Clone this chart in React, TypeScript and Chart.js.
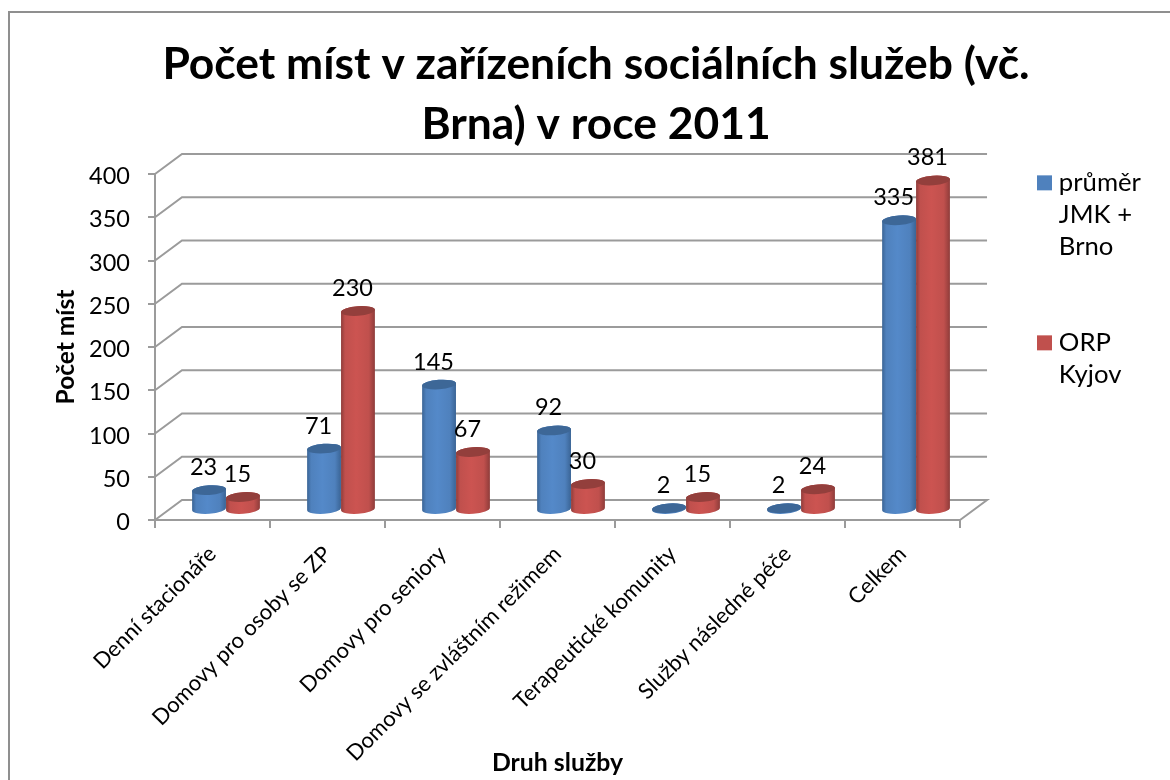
import React, { useEffect, useRef } from "react";
import { Chart, registerables } from "chart.js";

Chart.register(...registerables);

const categories = [
  "Denní stacionáře",
  "Domovy pro osoby se ZP",
  "Domovy pro seniory",
  "Domovy se zvláštním režimem",
  "Terapeutické komunity",
  "Služby následné péče",
  "Celkem",
];
const prumerValues = [23, 71, 145, 92, 2, 2, 335];
const kyjovValues = [15, 230, 67, 30, 15, 24, 381];
const seriesNames = ["průměr JMK + Brno", "ORP Kyjov"];
const legendLines = [["průměr", "JMK +", "Brno"], ["ORP", "Kyjov"]];
const titleLines = ["Počet míst v zařízeních sociálních služeb (vč.", "Brna) v roce 2011"];
const yTitle = "Počet míst";
const xTitle = "Druh služby";

const FONT = "Lato, Carlito, Calibri, sans-serif";
const GRID = "#9b9b9b";
const FRAME = "#8f8f8f";
const BLUE = { base: "#4f81bd", edge: "#3a6495", mid: "#5489c9", top: "#3d6797" };
const RED = { base: "#c0504d", edge: "#8e3c3a", mid: "#cc5451", top: "#933f3c" };
const DEPTH_X = 27;
const DEPTH_Y = 20;
const TILT = -0.07;

function drawCylinder(ctx: CanvasRenderingContext2D, bar: any, c: typeof BLUE) {
  const cx = bar.x + DEPTH_X / 2;
  const topY = bar.y - DEPTH_Y / 2;
  const baseY = bar.base - DEPTH_Y / 2;
  const rx = bar.width / 2;
  const ry = 4.8;
  const g = ctx.createLinearGradient(cx - rx, 0, cx + rx, 0);
  g.addColorStop(0, c.edge);
  g.addColorStop(0.12, c.base);
  g.addColorStop(0.45, c.mid);
  g.addColorStop(0.82, c.base);
  g.addColorStop(1, c.edge);
  ctx.beginPath();
  ctx.ellipse(cx, baseY, rx, ry, TILT, 0, Math.PI);
  ctx.ellipse(cx, topY, rx, ry, TILT, Math.PI, 2 * Math.PI);
  ctx.closePath();
  ctx.fillStyle = g;
  ctx.fill();
  ctx.beginPath();
  ctx.ellipse(cx, topY, rx, ry, TILT, 0, 2 * Math.PI);
  ctx.fillStyle = c.top;
  ctx.fill();
}

const scene3d = {
  id: "scene3d",
  afterLayout(chart: any) {
    const l = chart.legend;
    const dx = 979 - l.left;
    const dy = 170 - 64 - l.top;
    l.left += dx;
    l.right += dx;
    l.top += dy;
    l.bottom += dy;
    const t = chart.titleBlock;
    t.left += 4.5;
    t.right += 4.5;
  },
  beforeDraw(chart: any) {
    const ctx = chart.ctx;
    ctx.save();
    ctx.strokeStyle = FRAME;
    ctx.lineWidth = 2;
    ctx.beginPath();
    ctx.moveTo(9, chart.height);
    ctx.lineTo(9, 12);
    ctx.lineTo(chart.width, 12);
    ctx.stroke();
    ctx.restore();
  },
  beforeDatasetsDraw(chart: any) {
    const { ctx, scales } = chart;
    const { x, y } = scales;
    ctx.save();
    ctx.strokeStyle = GRID;
    ctx.lineWidth = 2;
    y.ticks.forEach((t: any) => {
      const py = y.getPixelForValue(t.value);
      ctx.beginPath();
      ctx.moveTo(x.left, py);
      ctx.lineTo(x.left + DEPTH_X, py - DEPTH_Y);
      ctx.lineTo(x.right + DEPTH_X, py - DEPTH_Y);
      if (t.value === 0) ctx.lineTo(x.right, py);
      ctx.stroke();
    });
    ctx.restore();
  },
  afterDatasetsDraw(chart: any) {
    const ctx = chart.ctx;
    const palettes = [BLUE, RED];
    ctx.save();
    chart.data.datasets.forEach((_: any, i: number) => {
      chart.getDatasetMeta(i).data.forEach((bar: any) => drawCylinder(ctx, bar, palettes[i]));
    });
    ctx.fillStyle = "#000";
    ctx.font = `23.5px ${FONT}`;
    ctx.textAlign = "center";
    ctx.textBaseline = "alphabetic";
    chart.data.datasets.forEach((ds: any, i: number) => {
      chart.getDatasetMeta(i).data.forEach((bar: any, j: number) => {
        ctx.fillText(String(ds.data[j]), bar.x + 8, bar.y - DEPTH_Y / 2 - 15);
      });
    });
    ctx.restore();
  },
};

export default function App() {
  const ref = useRef<HTMLCanvasElement>(null);
  useEffect(() => {
    document.documentElement.style.overflow = "hidden";
    const chart = new Chart(ref.current!, {
      type: "bar",
      data: {
        labels: categories,
        datasets: [
          { label: seriesNames[0], data: prumerValues, backgroundColor: "transparent" },
          { label: seriesNames[1], data: kyjovValues, backgroundColor: "transparent" },
        ],
      },
      options: {
        responsive: false,
        animation: false,
        events: [],
        layout: { padding: { left: 51, right: 38, top: 0, bottom: 0 } },
        datasets: { bar: { categoryPercentage: 0.59, barPercentage: 1 } },
        plugins: {
          tooltip: { enabled: false },
          title: {
            display: true,
            text: titleLines,
            color: "#000",
            font: { family: FONT, size: 44.4, weight: "bold", lineHeight: 60 / 44.4 },
            padding: { top: 35, bottom: 19 },
          },
          legend: {
            position: "right",
            align: "start",
            labels: {
              padding: 64,
              boxWidth: 3,
              boxHeight: 3,
              color: "#000",
              font: { family: FONT, size: 25.7, lineHeight: 32 / 25.7 },
              generateLabels: () =>
                legendLines.map((text, i) => ({
                  text,
                  fillStyle: [BLUE, RED][i].base,
                  strokeStyle: [BLUE, RED][i].base,
                  lineWidth: 12,
                  datasetIndex: i,
                })),
            },
          },
        },
        scales: {
          x: {
            afterFit: (s: any) => { s.height = 260; },
            grid: { drawOnChartArea: false, color: GRID, lineWidth: 2, tickLength: 8 },
            border: { color: GRID, width: 2 },
            ticks: {
              color: "#000",
              font: { family: FONT, size: 22 },
              minRotation: 45,
              maxRotation: 45,
              autoSkip: false,
              padding: 13,
            },
            title: {
              display: true,
              text: xTitle,
              color: "#000",
              font: { family: FONT, size: 24.8, weight: "bold" },
              padding: { top: 0, bottom: 2 },
            },
          },
          y: {
            min: 0,
            max: 400,
            afterFit: (s: any) => { s.width = 104; },
            grid: { drawOnChartArea: false, color: GRID, lineWidth: 2, tickLength: 7 },
            border: { color: GRID, width: 2 },
            ticks: {
              stepSize: 50,
              color: "#000",
              font: { family: FONT, size: 23.5 },
              padding: 18,
              labelOffset: 2.5,
            },
            title: {
              display: true,
              text: yTitle,
              color: "#000",
              font: { family: FONT, size: 24.5, weight: "bold" },
              padding: 0,
            },
          },
        },
      } as any,
      plugins: [scene3d],
    } as any);
    return () => chart.destroy();
  }, []);
  return (
    <canvas
      ref={ref}
      width={1170}
      height={780}
      style={{ position: "fixed", left: 0, top: 0, display: "block" }}
    />
  );
}
